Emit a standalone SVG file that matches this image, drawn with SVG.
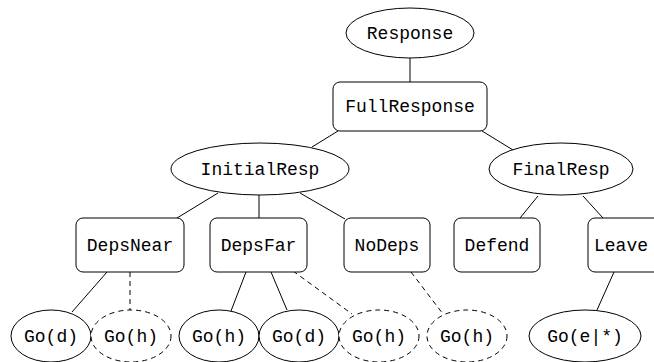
<svg xmlns="http://www.w3.org/2000/svg" width="654" height="362" viewBox="0 0 654 362">
<style>
.n{fill:#fff;stroke:#000;stroke-width:1}
.d{fill:#fff;stroke:#000;stroke-width:1;stroke-dasharray:5 4}
.e{stroke:#000;stroke-width:1;fill:none}
.ed{stroke:#000;stroke-width:1;fill:none;stroke-dasharray:5 4}
text{font-family:"Liberation Mono","DejaVu Sans Mono",monospace;font-size:18px;text-anchor:middle;fill:#000}
</style>
<rect width="654" height="362" fill="#fff"/>
<g id="connectors">
<line class="e" x1="410" y1="58" x2="410" y2="82"/>
<line class="e" x1="338" y1="131" x2="312" y2="147"/>
<line class="e" x1="482" y1="131" x2="513" y2="150"/>
<line class="e" x1="218" y1="193" x2="177" y2="218"/>
<line class="e" x1="259" y1="195" x2="259" y2="218"/>
<line class="e" x1="300" y1="193" x2="345" y2="219"/>
<line class="e" x1="538" y1="196" x2="520" y2="218"/>
<line class="e" x1="583" y1="196" x2="603" y2="218"/>
<line class="e" x1="107" y1="272" x2="72" y2="312"/>
<line class="ed" x1="130" y1="272" x2="130" y2="310"/>
<line class="e" x1="246" y1="272" x2="231" y2="311"/>
<line class="e" x1="271" y1="272" x2="287" y2="310"/>
<line class="ed" x1="293" y1="271" x2="352" y2="314"/>
<line class="ed" x1="411" y1="272" x2="443" y2="314"/>
<line class="e" x1="614" y1="272" x2="597" y2="310"/>
</g>
<g id="response"><ellipse class="n" cx="410" cy="33" rx="64" ry="25"/><text x="410" y="39">Response</text></g>
<g id="fullresponse"><rect class="n" x="333" y="82" width="154" height="49" rx="7"/><text x="410" y="112">FullResponse</text></g>
<g id="initialresp"><ellipse class="n" cx="260" cy="169" rx="89" ry="26"/><text x="260" y="175">InitialResp</text></g>
<g id="finalresp"><ellipse class="n" cx="561" cy="169" rx="72" ry="26"/><text x="561" y="175">FinalResp</text></g>
<g id="depsnear"><rect class="n" x="76" y="218" width="108" height="54" rx="7"/><text x="130" y="251">DepsNear</text></g>
<g id="depsfar"><rect class="n" x="210" y="218" width="97" height="54" rx="7"/><text x="258.5" y="251">DepsFar</text></g>
<g id="nodeps"><rect class="n" x="344" y="218" width="86" height="54" rx="7"/><text x="387" y="251">NoDeps</text></g>
<g id="defend"><rect class="n" x="454" y="218" width="86" height="54" rx="7"/><text x="497" y="251">Defend</text></g>
<g id="leave"><rect class="n" x="588" y="218" width="86" height="54" rx="7"/><text x="621" y="251">Leave</text></g>
<g id="go-d-1"><ellipse class="n" cx="51" cy="336" rx="40" ry="26"/><text x="51" y="342">Go(d)</text></g>
<g id="go-h-1"><ellipse class="d" cx="131" cy="336" rx="40" ry="26"/><text x="131" y="342">Go(h)</text></g>
<g id="go-h-2"><ellipse class="n" cx="219" cy="336" rx="40" ry="26"/><text x="219" y="342">Go(h)</text></g>
<g id="go-d-2"><ellipse class="n" cx="299" cy="336" rx="40" ry="26"/><text x="299" y="342">Go(d)</text></g>
<g id="go-h-3"><ellipse class="d" cx="379" cy="336" rx="40" ry="26"/><text x="379" y="342">Go(h)</text></g>
<g id="go-h-4"><ellipse class="d" cx="467" cy="336" rx="40" ry="26"/><text x="467" y="342">Go(h)</text></g>
<g id="go-e"><ellipse class="n" cx="585" cy="336" rx="56" ry="26"/><text x="585" y="342">Go(e|*)</text></g>
</svg>
